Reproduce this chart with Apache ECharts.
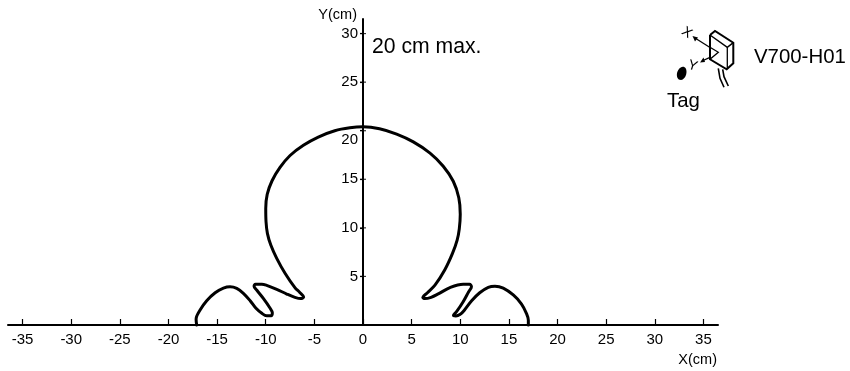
<!DOCTYPE html>
<html>
<head>
<meta charset="utf-8">
<style>html,body{margin:0;padding:0;background:#fff}#c{width:850px;height:371px}</style>
<script src="https://cdn.jsdelivr.net/npm/echarts@6/dist/echarts.min.js"></script>
</head>
<body>
<div id="c"></div>
<script>
const xTicks = [-35,-30,-25,-20,-15,-10,-5,0,5,10,15,20,25,30,35];
const yTicks = [5,10,15,20,25,30];
const curveX = [-17.1,-17.16,-16.75,-16.07,-15.2,-14.35,-13.67,-12.98,-12.3,-11.6,-11.0,-10.4,-9.9,-9.45,-9.32,-9.6,-10.25,-10.93,-11.2,-11.05,-10.4,-9.9,-8.87,-7.84,-7.0,-6.4,-6.1,-6.5,-7.0,-8.0,-8.87,-9.48,-9.83,-9.97,-10.0,-9.85,-9.35,-8.55,-7.5,-6.13,-4.6,-2.9,-1.35,0,1.7,3.46,5.17,6.89,8.25,9.28,9.85,10.0,9.9,9.68,9.2,8.4,7.4,6.6,6.15,6.35,7.0,7.74,8.94,10.3,10.95,11.15,10.85,10.3,9.6,9.3,9.55,10.0,10.4,11.17,12.0,12.88,13.57,14.42,15.45,16.3,16.8,17.0,17.0];
const curveY = [0,0.59,1.54,2.5,3.32,3.8,3.94,3.77,3.26,2.5,1.72,1.2,0.95,0.95,1.25,1.8,2.74,3.6,4.0,4.2,4.2,4.08,3.67,3.19,2.85,2.72,2.88,3.35,3.85,5.3,6.86,8.23,9.43,10.63,12.0,13.45,14.85,16.2,17.45,18.5,19.35,20.0,20.3,20.4,20.2,19.65,18.85,17.7,16.35,14.8,13.1,11.4,9.9,8.74,7.37,5.66,4.1,3.3,2.85,2.72,2.85,3.2,3.85,4.2,4.2,3.95,3.4,2.4,1.35,1.0,0.93,1.1,1.5,2.5,3.32,3.88,4.0,3.8,3.09,2.16,1.2,0.5,0];
const font = 'Liberation Sans';
const line = (points, width) => ({type:'polyline', silent:true, shape:{points}, style:{stroke:'#000', lineWidth:width, fill:null}});
const txt = (text,x,y,size) => ({type:'text', x, y, silent:true, style:{text, fontFamily:font, fontSize:size, fill:'#000', textVerticalAlign:'middle'}});
const glyph = (text,x,y,r) => ({type:'text', silent:true, x, y, rotation:r, style:{text, fontFamily:font, fontSize:14, fill:'#000', textAlign:'center', textVerticalAlign:'middle'}});
const chart = echarts.init(document.getElementById('c'), null, {renderer:'canvas'});
chart.setOption({
  animation:false,
  backgroundColor:'#fff',
  grid:{left:8, right:132, top:19, bottom:46, outerBoundsMode:'none', containLabel:false},
  xAxis:{type:'value', min:-36.5, max:36.5, name:'X(cm)', nameLocation:'end', nameGap:0,
    nameTextStyle:{fontFamily:font, fontSize:14.5, color:'#000', align:'right', verticalAlign:'top', padding:[27,1,0,0]},
    splitLine:{show:false},
    axisLine:{onZero:false, lineStyle:{color:'#000', width:2}},
    axisTick:{inside:true, length:6, customValues:xTicks, lineStyle:{color:'#000', width:1.2}},
    axisLabel:{customValues:xTicks, margin:7, fontFamily:font, fontSize:15, color:'#000'}},
  yAxis:{type:'value', min:0, max:31.5, position:'left', offset:-355, splitLine:{show:false},
    name:'Y(cm)', nameLocation:'end', nameGap:4,
    nameTextStyle:{fontFamily:font, fontSize:14.5, color:'#000', align:'right', verticalAlign:'middle', padding:[0,6,0,0]},
    axisLine:{show:true, onZero:false, lineStyle:{color:'#000', width:2}},
    axisTick:{length:3, customValues:yTicks, lineStyle:{color:'#000', width:1.2}},
    axisLabel:{customValues:yTicks, margin:5, fontFamily:font, fontSize:15, color:'#000',
      formatter:v => v === 20 ? '{low|20}' : String(v),
      rich:{low:{fontFamily:font, fontSize:15, color:'#000', padding:[18,0,0,0]}}}},
  series:[
    {type:'scatter', symbol:'rect', symbolSize:[6,1.2], silent:true, itemStyle:{color:'#000'},
      data:yTicks.map(v=>[0,v])},
    {type:'line', smooth:0.35, showSymbol:false, clip:false,
      lineStyle:{color:'#000', width:3, join:'round', cap:'round'},
      data:curveX.map((x,i)=>[x,curveY[i]])}
  ],
  graphic:[
    txt('20 cm max.',372,47,21.2),
    txt('V700-H01',754,57,20.4),
    txt('Tag',667,101,20.4),
    line([[710,35],[715,31],[733.3,42.7],[733.3,63.3],[726.7,69.3],[710,59.3],[710,35]],2),
    line([[710,35],[727.3,47.3],[733.3,42.7]],1.5),
    line([[727.3,47.3],[727.3,69]],1.3),
    line([[710,47.3],[718.3,52.3],[710,59.3]],1.3),
    line([[718.3,68.3],[720,78.3],[724,87.3]],1.6),
    line([[722.7,69.3],[724,76.7],[728.3,86]],1.6),
    line([[710,47.5],[695,38]],1.3),
    {type:'polygon', silent:true, shape:{points:[[692.5,36],[698,37.5],[695,41.5]]}, style:{fill:'#000'}},
    line([[710,57.3],[702,61]],1.3),
    {type:'polygon', silent:true, shape:{points:[[700,62.5],[703.5,57.5],[705,62]]}, style:{fill:'#000'}},
    {type:'ellipse', silent:true, shape:{cx:681.7,cy:73.3,rx:4.6,ry:6.8}, rotation:-0.3, originX:681.7, originY:73.3, style:{fill:'#000'}},
    glyph('X',686.7,32.7,-0.6),
    glyph('Y',692.7,66,-0.3)
  ]
});
</script>
</body>
</html>
